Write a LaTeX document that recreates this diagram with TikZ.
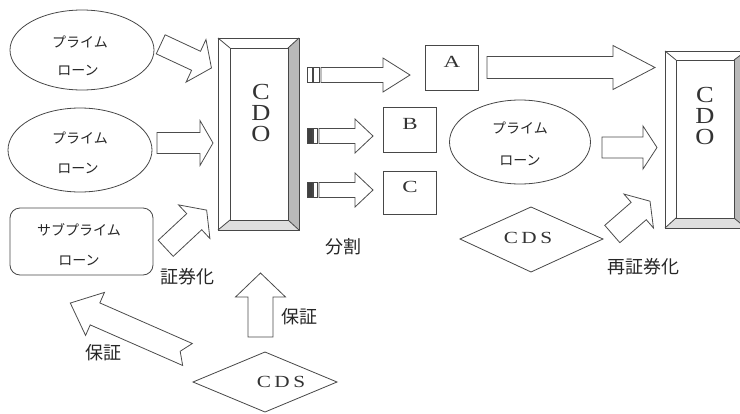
\documentclass[tikz,border=0pt]{standalone}
\usepackage{fontspec}
\usepackage{graphicx}
\setmainfont{Liberation Serif}
\newfontfamily\jp{Noto Sans CJK JP}
\usetikzlibrary{shapes.geometric}
\begin{document}
\begin{tikzpicture}[x=1pt,y=-1pt,
  ln/.style={draw=black!72, line width=0.8pt},
  arrowline/.style={draw=black!70, line width=0.8pt, fill=white, line join=miter},
  kana/.style={font=\jp\fontsize{14}{14}\selectfont, inner sep=0pt, text=black!85},
  lbl/.style={font=\jp\fontsize{18}{18}\selectfont, inner sep=0pt, text=black!85},
  ser/.style={font=\fontsize{23}{21}\selectfont, inner sep=0pt, align=center, text=black!80},
  let/.style={font=\fontsize{17}{17}\selectfont, inner sep=0pt, text=black!80},
  pics/barrow/.style args={#1/#2/#3/#4/#5}{code={
    \path[arrowline] (0,{-#2/2}) -- ({#1-#4},{-#2/2}) -- ({#1-#4},{-#3/2}) -- (#1,0)
      -- ({#1-#4},{#3/2}) -- ({#1-#4},{#2/2}) -- (0,{#2/2}) -- (#5,0) -- cycle;
  }}
]
\useasboundingbox (0,0) rectangle (740,413);

% ---- left ellipses and subprime box
\node[ellipse, ln, minimum width=144, minimum height=80, inner sep=0pt] (e1) at (82,50) {};
\node[kana] (e1a) at (80,42) {プライム};
\node[kana] (e1b) at (78,70) {ローン};
\node[ellipse, ln, minimum width=144, minimum height=84, inner sep=0pt] (e2) at (80,150) {};
\node[kana] (e2a) at (80,138) {プライム};
\node[kana] (e2b) at (78,168) {ローン};
\node[ln, rounded corners=10pt, minimum width=143, minimum height=67, inner sep=0pt] (sub) at (81.5,241.5) {};
\node[kana] (suba) at (79,230) {サブプライム};
\node[kana] (subb) at (79,260) {ローン};

% ---- CDO left
\node[inner sep=0pt, minimum width=81, minimum height=192] (cdo1) at (258.5,134) {};
\fill[gray!55] (288,48) -- (299,38) -- (299,230) -- (288,220) -- cycle;
\fill[gray!25] (230,220) -- (288,220) -- (299,230) -- (218,230) -- cycle;
\draw[ln] (218,38) rectangle (299,230);
\draw[ln] (230,48) rectangle (288,220);
\draw[ln] (218,38) -- (230,48) (299,38) -- (288,48) (218,230) -- (230,220) (299,230) -- (288,220);
\node[ser] (cdo1t) at (261,113) {\scalebox{1.15}[1]{C}\\\scalebox{1.15}[1]{D}\\\scalebox{1.15}[1]{O}};

% ---- CDO right
\node[inner sep=0pt, minimum width=81, minimum height=177] (cdo2) at (705.5,139.5) {};
\fill[gray!55] (734,60) -- (746,51) -- (746,228) -- (734,218) -- cycle;
\fill[gray!25] (676,218) -- (734,218) -- (746,228) -- (665,228) -- cycle;
\draw[ln] (665,51) rectangle (746,228);
\draw[ln] (676,60) rectangle (734,218);
\draw[ln] (665,51) -- (676,60) (746,51) -- (734,60) (665,228) -- (676,218) (746,228) -- (734,218);
\node[ser] (cdo2t) at (705,116) {\scalebox{1.15}[1]{C}\\\scalebox{1.15}[1]{D}\\\scalebox{1.15}[1]{O}};

% ---- boxes A B C
\node[ln, minimum width=53, minimum height=45, inner sep=0pt] (A) at (451.5,67.5) {};
\node[let] (At) at (452,62) {\scalebox{1.35}[1]{A}};
\node[ln, minimum width=53, minimum height=45, inner sep=0pt] (B) at (409.5,129.5) {};
\node[let] (Bt) at (410,124) {\scalebox{1.35}[1]{B}};
\node[ln, minimum width=53, minimum height=43, inner sep=0pt] (C) at (409.5,192.5) {};
\node[let] (Ct) at (410,187) {\scalebox{1.35}[1]{C}};

% ---- right ellipse
\node[ellipse, ln, minimum width=141, minimum height=84, inner sep=0pt] (e3) at (520,142) {};
\node[kana] (e3a) at (520,128) {プライム};
\node[kana] (e3b) at (520,160) {ローン};

% ---- CDS diamonds
\draw[ln] (460,239) -- (531,207) -- (603,239) -- (531,272) -- cycle;
\node[let] (cds2) at (528,238) {\scalebox{1.25}[1]{C\,D\,S}};
\draw[ln] (193,382) -- (265,352) -- (337,382) -- (265,412) -- cycle;
\node[let] (cds1) at (281,382) {\scalebox{1.25}[1]{C\,D\,S}};

% ---- block arrows
\pic[rotate=-25] at (160.7,44.3) {barrow=56/21/47/17/0};
\pic at (157,143) {barrow=56/21/45/13/0};
\pic[rotate=43] at (165.7,248.3) {barrow=56/22/46/17/0};
\pic[rotate=90] at (260.5,337) {barrow=64/25/50/24/0};
\pic[rotate=156.3] at (187.5,354.5) {barrow=128/24/47/27/8};
\pic at (487,67.5) {barrow=168/22/44/42/0};
\pic at (602,147.5) {barrow=55/21/43/14/0};
\pic[rotate=41] at (612.3,234) {barrow=50/23/45/15/0};

% small striped arrows
\pic at (321,75) {barrow=89/15/34/27/0};
\draw[ln, line width=0.6pt] (307,67.5) rectangle (312,82.5) (313.5,67.5) rectangle (319,82.5);
\pic at (319,136) {barrow=54/15/34/18/0};
\draw[ln, line width=0.6pt, fill=black!75] (307,128.5) rectangle (312,143.5);
\draw[ln, line width=0.6pt] (313,128.5) rectangle (317,143.5);
\pic at (319,190) {barrow=54/15/34/18/0};
\draw[ln, line width=0.6pt, fill=black!75] (307,182.5) rectangle (312,197.5);
\draw[ln, line width=0.6pt] (313,182.5) rectangle (317,197.5);

% ---- labels
\node[lbl] (l1) at (343,247) {分割};
\node[lbl] (l2) at (187,277) {証券化};
\node[lbl] (l3) at (299,317) {保証};
\node[lbl] (l4) at (103,353) {保証};
\node[lbl] (l5) at (643,267) {再証券化};
\end{tikzpicture}
\end{document}
